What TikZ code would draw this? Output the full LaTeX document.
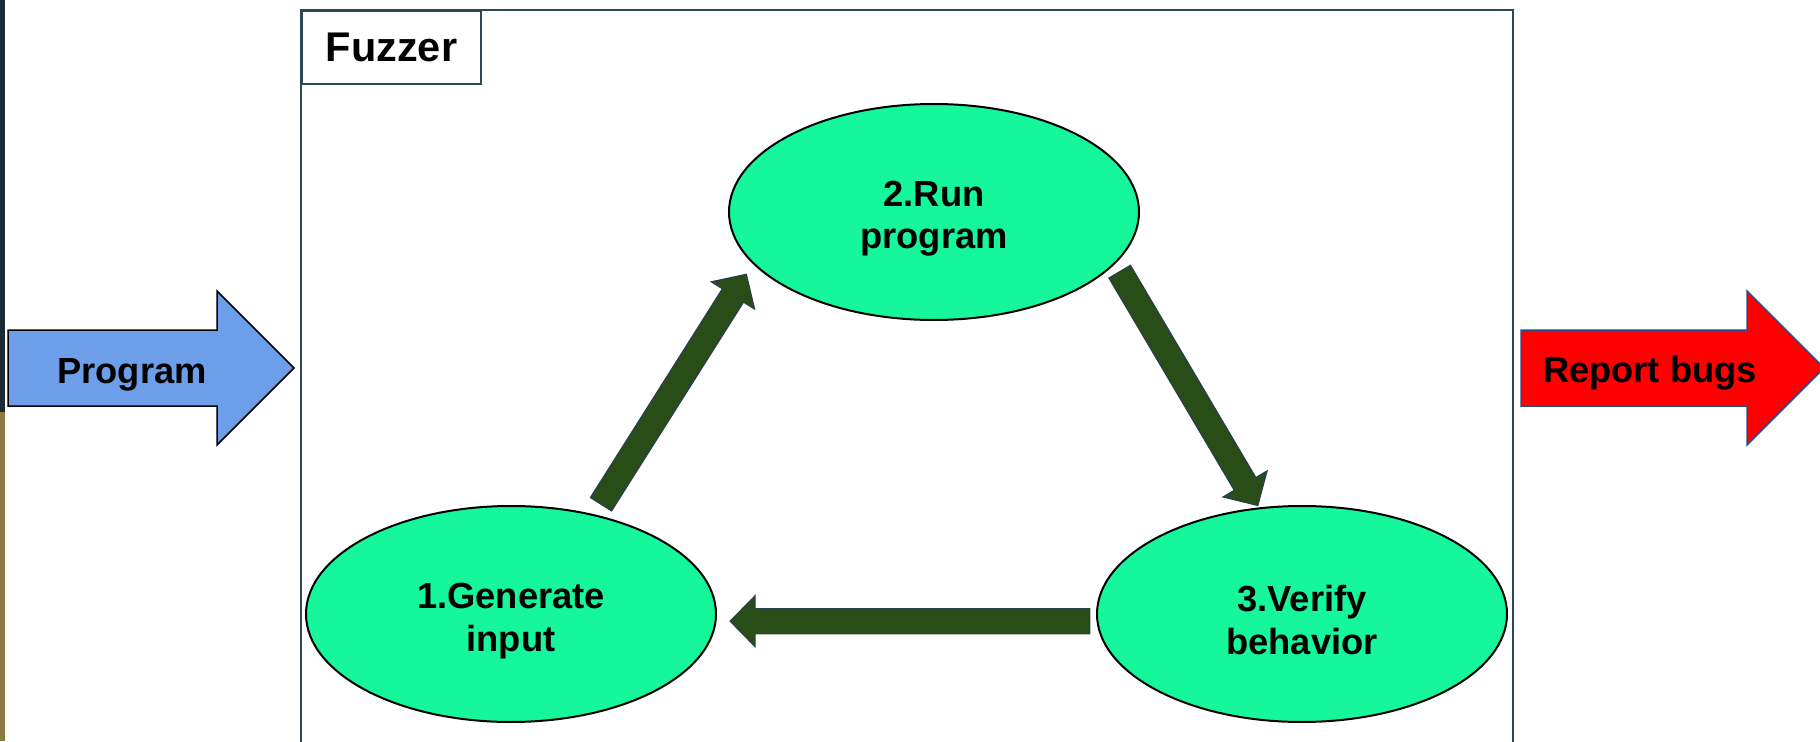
\documentclass[tikz,border=0pt]{standalone}
\usepackage{fontspec}
\setmainfont{Liberation Sans}
\usetikzlibrary{calc,shapes.geometric}

\definecolor{stagegreen}{HTML}{16F69A}
\definecolor{arrowgreen}{HTML}{294D17}
\definecolor{arrowedge}{HTML}{2B3D4F}
\definecolor{framegray}{HTML}{2F4858}
\definecolor{progblue}{HTML}{6D9EEA}
\definecolor{bugred}{HTML}{FF0000}
\definecolor{bugedge}{HTML}{2B4C8C}
\definecolor{stripdark}{HTML}{1B2B35}
\definecolor{striptan}{HTML}{8E7A44}

% lowers the two text lines a little inside the ellipses
\newcommand{\stagestrut}{\rule{0pt}{11pt}}

\tikzset{
  gapstart/.store in=\gapstart, gapend/.store in=\gapend,
  gapstart=0pt, gapend=0pt,
  stage/.style={ellipse, draw=black, line width=0.2mm, fill=stagegreen,
    minimum width=4.1cm, minimum height=2.16cm, inner sep=0pt, align=center,
    font=\fontsize{10.33}{12.2}\selectfont\bfseries},
  bigtext/.style={anchor=base, inner sep=0pt, font=\fontsize{10.33}{12.2}\selectfont\bfseries},
  blockarrow/.style={fill=arrowgreen, draw=arrowedge, line width=0.12mm, line join=miter,
    to path={let \p1=(\tikztostart), \p2=(\tikztotarget),
      \n1={atan2(\y2-\y1,\x2-\x1)}, \n2={veclen(\x2-\x1,\y2-\y1)} in
      ([shift={(\p1)},rotate=\n1]\gapstart,1.25mm)
      -- ([shift={(\p1)},rotate=\n1]{\n2*1pt-\gapend-2.5mm},1.25mm)
      -- ([shift={(\p1)},rotate=\n1]{\n2*1pt-\gapend-2.5mm},2.55mm)
      -- ([shift={(\p1)},rotate=\n1]{\n2*1pt-\gapend},0mm)
      -- ([shift={(\p1)},rotate=\n1]{\n2*1pt-\gapend-2.5mm},-2.55mm)
      -- ([shift={(\p1)},rotate=\n1]{\n2*1pt-\gapend-2.5mm},-1.25mm)
      -- ([shift={(\p1)},rotate=\n1]\gapstart,-1.25mm) -- cycle}}
}

\begin{document}
\begin{tikzpicture}
      \useasboundingbox (0,0) rectangle (18.2,7.41);
      % slide edge
      \fill[stripdark] (0,3.29) rectangle (0.047,7.41);
      \fill[striptan] (0,0) rectangle (0.047,3.29);
      % fuzzer frame
      \draw[framegray,line width=0.2mm] (3.01,-0.1) -- (3.01,7.31) -- (15.13,7.31) -- (15.13,-0.1);
      \node[draw=framegray,line width=0.2mm,anchor=north west,minimum width=1.79cm,minimum height=0.73cm,inner sep=0pt,
            font=\fontsize{11.8}{13}\selectfont\bfseries] (fuzzlabel) at (3.01,7.31) {Fuzzer};
      % input and output
      \draw[fill=progblue,draw=black,line width=0.15mm] (0.08,3.35) -- (2.17,3.35) -- (2.17,2.96) -- (2.94,3.73)
            -- (2.17,4.50) -- (2.17,4.11) -- (0.08,4.11) -- cycle;
      \node[bigtext] (prog) at (1.32,3.58) {Program};
      \draw[fill=bugred,draw=bugedge,line width=0.15mm] (15.21,3.35) -- (17.47,3.35) -- (17.47,2.96) -- (18.24,3.73)
            -- (17.47,4.50) -- (17.47,4.11) -- (15.21,4.11) -- cycle;
      \node[bigtext] (report) at (16.50,3.59) {Report bugs};
      % the loop
      \node[stage] (run) at (9.34,5.29) {\stagestrut 2.Run\\program};
      \node[stage] (gen) at (5.11,1.27) {\stagestrut 1.Generate\\input};
      \node[stage] (verify) at (13.02,1.27) {\stagestrut 3.Verify\\behavior};
      \draw[blockarrow,gapstart=0.12cm,gapend=0.12cm] (gen.50.2) to (run.196.1);
      \draw[blockarrow,gapstart=0.09cm,gapend=0.02cm] (run.-16.3) to (verify.112.7);
      \draw[blockarrow,gapstart=0.066cm,gapend=0.136cm] (verify.182.2) to (gen.-2.2);
\end{tikzpicture}
\end{document}
